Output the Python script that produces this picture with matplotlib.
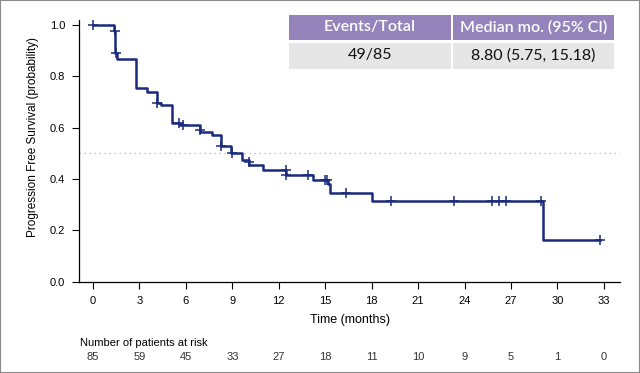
import numpy as np
import matplotlib.pyplot as plt
from matplotlib.patches import Rectangle
from matplotlib.transforms import blended_transform_factory

# Kaplan-Meier steps (time in months, survival after the step)
step_t = [0, 1.38, 1.45, 1.55, 2.76, 3.47, 4.15, 4.4, 5.08, 5.6, 6.88, 7.67,
          8.25, 8.9, 9.6, 10.1, 11.0, 12.45, 14.2, 15.15, 15.3, 18.0, 29.05, 32.75]
step_s = [1.0, 0.977, 0.89, 0.866, 0.753, 0.738, 0.696, 0.688, 0.62, 0.61, 0.585, 0.572,
          0.527, 0.503, 0.474, 0.455, 0.437, 0.416, 0.396, 0.38, 0.347, 0.314, 0.162, 0.162]

# censored observations
cens_t = [0, 1.45, 1.5, 4.15, 5.55, 5.8, 6.9, 8.3, 8.96, 10.05, 12.45, 12.45, 13.87,
          15.0, 15.14, 16.35, 19.25, 23.34, 25.75, 26.25, 26.66, 28.94, 32.75]
cens_s = [1.0, 0.977, 0.89, 0.697, 0.62, 0.61, 0.59, 0.527, 0.503, 0.465, 0.437, 0.416, 0.416,
          0.396, 0.396, 0.347, 0.314, 0.314, 0.314, 0.314, 0.314, 0.314, 0.162]

risk_times = [0, 3, 6, 9, 12, 15, 18, 21, 24, 27, 30, 33]
at_risk = [85, 59, 45, 33, 27, 18, 11, 10, 9, 5, 1, 0]

table_head = ["Events/Total", "Median mo. (95% CI)"]
table_row = ["49/85", "8.80 (5.75, 15.18)"]

plt.rcParams['font.family'] = ['Liberation Sans', 'DejaVu Sans']

W, H = 640, 373
fig = plt.figure(figsize=(W / 100, H / 100), dpi=100)
ax = fig.add_axes([79 / W, (H - 281.7) / H, (620 - 79) / W, (281.7 - 19.9) / H])

navy = '#1a2a7c'
ax.step(step_t, step_s, where='post', color=navy, lw=1.8)
ax.plot(cens_t, cens_s, ls='none', marker='+', ms=7, mew=1.1, color=navy)

ax.axhline(0.5, color='#b0b0b0', ls=(0, (1, 3)), lw=0.9, zorder=0)

ax.set_xlim(-0.904, 34.04)
ax.set_ylim(0, 1.02)
ax.set_xticks(risk_times)
ax.set_yticks(np.arange(0, 1.01, 0.2))
ax.set_yticklabels([f"{v:.1f}" for v in np.arange(0, 1.01, 0.2)])
ax.tick_params(labelsize=8, length=5, width=0.8, direction='out', pad=5)
for s in ['top', 'right']:
    ax.spines[s].set_visible(False)
for s in ['left', 'bottom']:
    ax.spines[s].set_linewidth(0.9)

ax.set_xlabel('Time (months)', fontsize=9, labelpad=6)
fig.text(33 / W, (H - 137) / H, 'Progression Free Survival (probability)',
         rotation=90, fontsize=8.5, ha='center', va='center')

# number at risk
fig.text(80 / W, (H - 343) / H, 'Number of patients at risk', fontsize=8, ha='left', va='center')
tr = blended_transform_factory(ax.transData, fig.transFigure)
for t, n in zip(risk_times, at_risk):
    ax.text(t, (H - 357) / H, str(n), transform=tr, fontsize=8, ha='center', va='center',
            color='#333333')

# summary table in the upper right
cells_x = [(289, 450.5), (453, 613.5)]
for (x0, x1), head, val in zip(cells_x, table_head, table_row):
    fig.patches.append(Rectangle((x0 / W, (H - 40) / H), (x1 - x0) / W, 25 / H,
                                 transform=fig.transFigure, color='#9584bb', lw=0))
    fig.patches.append(Rectangle((x0 / W, (H - 68.5) / H), (x1 - x0) / W, 25.5 / H,
                                 transform=fig.transFigure, color='#e6e6e6', lw=0))
    fig.text((x0 + x1) / 2 / W, (H - 27.5) / H, head, color='white', fontsize=11.5,
             family='Lato', weight='semibold', ha='center', va='center')
    fig.text((x0 + x1) / 2 / W, (H - 55.5) / H, val, color='#111111', fontsize=11.5,
             family='Lato', ha='center', va='center')

fig.patches.append(Rectangle((0, 0), 1, 1, transform=fig.transFigure, fill=False,
                             edgecolor='#8a8a8a', lw=1.5))

fig.savefig('out.png', dpi=100)
